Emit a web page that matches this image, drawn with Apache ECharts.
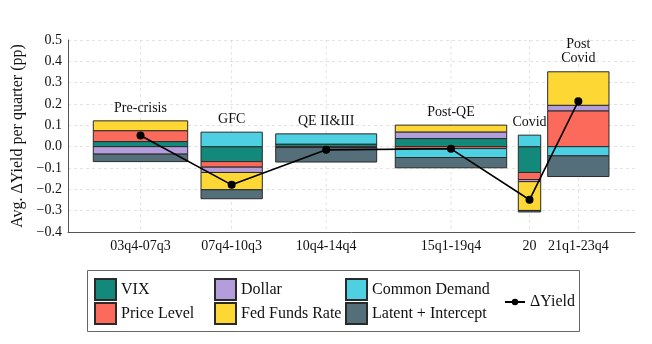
<!DOCTYPE html>
<html><head><meta charset="utf-8">
<script src="https://cdn.jsdelivr.net/npm/echarts@6/dist/echarts.min.js"></script>
<style>html,body{margin:0;padding:0;background:#fff}#c{width:652px;height:344px}</style>
</head><body><div id="c"></div>
<script>
// ---- data ----
const periods = ['Pre-crisis', 'GFC', 'QE II&III', 'Post-QE', 'Covid', 'Post\nCovid'];
const tickLabels = ['03q4-07q3', '07q4-10q3', '10q4-14q4', '15q1-19q4', '20', '21q1-23q4'];
const vix          = [0.024, -0.070,  0.012,  0.038, -0.121,  0.000];
const priceLevel   = [0.051, -0.026, -0.004, -0.009, -0.033,  0.168];
const dollar       = [-0.035, -0.025, 0.000,  0.031, -0.010,  0.026];
const fedFunds     = [0.046, -0.081,  0.000,  0.032, -0.135,  0.157];
const commonDemand = [0.000,  0.068,  0.048, -0.042,  0.054, -0.043];
const latent       = [-0.035, -0.042, -0.068, -0.048, -0.007, -0.097];
const dYield       = [0.052, -0.179, -0.015, -0.010, -0.249,  0.213];

// ---- layout (x extents of each period's bar, in x-axis units 0..100) ----
const barSpans = [[4.46, 21.11], [23.46, 34.27], [36.63, 54.44], [57.72, 77.37], [79.42, 83.37], [84.60, 95.41]];
const centers = barSpans.map(s => (s[0] + s[1]) / 2);

const FONT = '"Liberation Serif", "DejaVu Serif", serif';
const components = [
  { name: 'VIX', values: vix, color: '#12897b' },
  { name: 'Price Level', values: priceLevel, color: '#fb6a5a' },
  { name: 'Dollar', values: dollar, color: '#b39ddb' },
  { name: 'Fed Funds Rate', values: fedFunds, color: '#fdd835' },
  { name: 'Common Demand', values: commonDemand, color: '#4dd0e1' },
  { name: 'Latent + Intercept', values: latent, color: '#546e7a' }
];

// stacking: positives up from 0, negatives down from 0, in component order
const posTop = periods.map(() => 0), negBot = periods.map(() => 0);
const segs = components.map(() => []);
components.forEach((c, k) => {
  c.values.forEach((v, i) => {
    if (v === 0) return;
    let lo, hi;
    if (v > 0) { lo = posTop[i]; hi = lo + v; posTop[i] = hi; }
    else { hi = negBot[i]; lo = hi + v; negBot[i] = lo; }
    segs[k].push([barSpans[i][0], barSpans[i][1], lo, hi]);
  });
});

const barSeries = components.map((c, k) => ({
  name: c.name,
  type: 'custom',
  z: 3,
  itemStyle: { color: c.color, borderColor: '#2a2a2a', borderWidth: 1 },
  encode: { x: [0, 1], y: [2, 3] },
  data: segs[k],
  renderItem: function (params, api) {
    const p0 = api.coord([api.value(0), api.value(3)]);
    const p1 = api.coord([api.value(1), api.value(2)]);
    return {
      type: 'rect',
      shape: { x: p0[0], y: p0[1], width: p1[0] - p0[0], height: p1[1] - p0[1] },
      style: { fill: c.color, stroke: '#2a2a2a', lineWidth: 1 }
    };
  }
}));

const labelSeries = {
  name: 'periodLabels',
  type: 'custom',
  z: 1,
  silent: true,
  encode: { x: 0, y: 1 },
  data: periods.map((p, i) => [centers[i], posTop[i], i]),
  renderItem: function (params, api) {
    const c = api.value(0);
    const top = api.coord([c, 0.5]);
    const bot = api.coord([c, -0.4]);
    const at = api.coord([c, api.value(1)]);
    return {
      type: 'group',
      children: [
        { type: 'line', shape: { x1: top[0], y1: top[1], x2: bot[0], y2: bot[1] },
          style: { stroke: '#dcdcdc', lineWidth: 0.8, lineDash: [3, 3] } },
        { type: 'text', x: at[0], y: at[1] - 6,
          style: { text: periods[api.value(2)], align: 'center', verticalAlign: 'bottom',
                   fontFamily: FONT, fontSize: 14, lineHeight: 14, fill: '#111' } }
      ]
    };
  }
};

const lineSeries = {
  name: 'ΔYield',
  type: 'line',
  z: 6,
  data: centers.map((c, i) => [c, dYield[i]]),
  symbol: 'circle',
  symbolSize: 8,
  itemStyle: { color: '#000' },
  lineStyle: { color: '#000', width: 1.6 }
};

function legendAt(name, left, top, isLine) {
  const l = {
    data: [name], left: left, top: top, padding: 0, selectedMode: false,
    itemWidth: isLine ? 20 : 21, itemHeight: isLine ? 8 : 21, itemGap: 0,
    textStyle: { fontFamily: FONT, fontSize: 16, color: '#111' }
  };
  if (!isLine) l.icon = 'rect';
  return l;
}

const chart = echarts.init(document.getElementById('c'), null, { renderer: 'canvas' });
chart.setOption({
  animation: false,
  backgroundColor: '#fff',
  grid: { left: 68, right: 17, top: 40, bottom: 112, containLabel: false },
  xAxis: {
    type: 'value', min: 0, max: 100,
    axisLine: { show: true, onZero: false, lineStyle: { color: '#555', width: 1 } },
    axisTick: { show: false },
    splitLine: { show: false },
    axisLabel: {
      customValues: centers,
      formatter: function (v) {
        const i = centers.findIndex(c => Math.abs(c - v) < 1e-6);
        return i >= 0 ? tickLabels[i] : '';
      },
      fontFamily: FONT, fontSize: 14, color: '#111', margin: 7
    }
  },
  yAxis: {
    type: 'value', min: -0.4, max: 0.5, interval: 0.1,
    name: 'Avg. ΔYield per quarter (pp)', nameLocation: 'middle', nameGap: 38,
    nameTextStyle: { fontFamily: FONT, fontSize: 16, color: '#111' },
    axisLine: { show: true, onZero: false, lineStyle: { color: '#555', width: 1 } },
    axisTick: { show: false },
    splitLine: { show: true, lineStyle: { color: '#dcdcdc', width: 0.8, type: [3, 3] } },
    axisLabel: {
      fontFamily: FONT, fontSize: 14, color: '#111', margin: 6,
      formatter: v => (v < -1e-9 ? '\u2212' : '') + Math.abs(v).toFixed(1)
    }
  },
  legend: [
    legendAt('VIX', 94, 278),
    legendAt('Price Level', 94, 302),
    legendAt('Dollar', 214, 278),
    legendAt('Fed Funds Rate', 214, 302),
    legendAt('Common Demand', 345, 278),
    legendAt('Latent + Intercept', 345, 302),
    legendAt('ΔYield', 504, 294, true)
  ],
  graphic: [{
    type: 'rect', left: 87, top: 270, z: -1, silent: true,
    shape: { width: 492, height: 61 },
    style: { fill: '#fff', stroke: '#666', lineWidth: 1 }
  }],
  series: [labelSeries].concat(barSeries, [lineSeries])
});
</script></body></html>
